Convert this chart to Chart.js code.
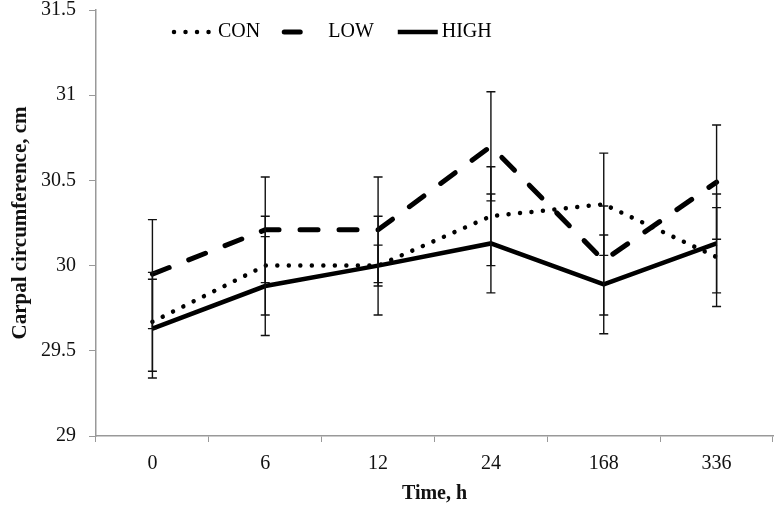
<!DOCTYPE html>
<html>
<head>
<meta charset="utf-8">
<script src="https://cdn.jsdelivr.net/npm/chart.js@4"></script>
<style>
  html, body { margin: 0; padding: 0; background: #fff; }
  #wrap { width: 776px; height: 508px; }
</style>
</head>
<body>
<div id="wrap"><canvas id="chart" width="776" height="508"></canvas></div>
<script>
// Carpal circumference over time
const times = ['0', '6', '12', '24', '168', '336'];
const yTicks = [29, 29.5, 30, 30.5, 31, 31.5];

const conValues = [29.67, 30.00, 30.00, 30.29, 30.36, 30.05];
const lowValues = [29.95, 30.21, 30.21, 30.70, 30.03, 30.49];
const highValues = [29.63, 29.88, 30.00, 30.13, 29.89, 30.13];

const conErr = [0.29, 0.29, 0.29, 0.29, 0.30, 0.29];
const lowErr = [0.32, 0.31, 0.31, 0.32, 0.32, 0.335];
const highErr = [0.29, 0.29, 0.12, 0.29, 0.29, 0.29];

const serif = "'Liberation Serif', 'Times New Roman', serif";

// vertical error bars with caps
const errorBars = {
    id: 'errorBars',
    afterDatasetsDraw(chart) {
        const ctx = chart.ctx;
        const x = chart.scales.x, y = chart.scales.y;
        ctx.save();
        ctx.strokeStyle = '#111';
        ctx.lineWidth = 1.4;
        chart.data.datasets.forEach(ds => {
            ds.data.forEach((v, i) => {
                const e = ds.errors[i];
                const px = x.getPixelForValue(i);
                const top = y.getPixelForValue(v + e);
                const bot = y.getPixelForValue(v - e);
                ctx.beginPath();
                ctx.moveTo(px, top); ctx.lineTo(px, bot);
                ctx.moveTo(px - 4.5, top); ctx.lineTo(px + 4.5, top);
                ctx.moveTo(px - 4.5, bot); ctx.lineTo(px + 4.5, bot);
                ctx.stroke();
            });
        });
        ctx.restore();
    }
};

// legend drawn across the top
const topLegend = {
    id: 'topLegend',
    afterDraw(chart) {
        const ctx = chart.ctx;
        let px = 172;
        const py = 32;
        ctx.save();
        ctx.font = '20px ' + serif;
        ctx.textBaseline = 'middle';
        ctx.fillStyle = '#000';
        chart.data.datasets.forEach(ds => {
            const dash = ds.borderDash || [];
            // a long dash shows only one stroke in the sample
            const len = dash.length && dash[0] > 1 ? dash[0] : 42;
            ctx.save();
            ctx.strokeStyle = '#000';
            ctx.lineWidth = ds.borderWidth;
            ctx.lineCap = ds.borderCapStyle || 'butt';
            ctx.setLineDash(len === 42 ? dash : []);
            ctx.beginPath();
            ctx.moveTo(px + 2, py); ctx.lineTo(px + len, py);
            ctx.stroke();
            ctx.restore();
            px += 46;
            ctx.fillText(ds.label, px, py);
            px += ctx.measureText(ds.label).width + 22;
        });
        ctx.restore();
    }
};

new Chart(document.getElementById('chart'), {
    type: 'line',
    data: {
        labels: times,
        datasets: [
            { label: 'CON', data: conValues, errors: conErr, borderColor: '#000', borderWidth: 4.5,
              borderDash: [0.01, 11.5], borderCapStyle: 'round' },
            { label: 'LOW', data: lowValues, errors: lowErr, borderColor: '#000', borderWidth: 5,
              borderDash: [18, 21], borderCapStyle: 'round' },
            { label: 'HIGH', data: highValues, errors: highErr, borderColor: '#000', borderWidth: 4.5,
              borderJoinStyle: 'miter' }
        ]
    },
    options: {
        responsive: false,
        animation: false,
        layout: { padding: { top: 10, right: 3, left: 0, bottom: 0 } },
        elements: { point: { radius: 0 }, line: { tension: 0 } },
        plugins: { legend: { display: false }, tooltip: { enabled: false } },
        scales: {
            x: {
                offset: true,
                afterFit: s => { s.height = 72; s.paddingLeft = 0; s.paddingRight = 0; },
                grid: { offset: true, drawOnChartArea: false, color: '#999', tickLength: 6 },
                border: { color: '#999', width: 1.5 },
                ticks: { color: '#111', padding: 10, font: { family: serif, size: 20 } },
                title: { display: true, text: 'Time, h', color: '#111', padding: { top: 0, bottom: 2 },
                         font: { family: serif, size: 20, weight: 'bold' } }
            },
            y: {
                min: 29, max: 31.5,
                afterFit: s => { s.width = 96; s.paddingTop = 0; s.paddingBottom = 0; },
                afterBuildTicks: s => { s.ticks = yTicks.map(v => ({ value: v })); },
                grid: { drawOnChartArea: false, color: '#999', tickLength: 7 },
                border: { color: '#999', width: 1.5 },
                ticks: { color: '#111', padding: 13, font: { family: serif, size: 20 },
                         callback: v => String(v) },
                title: { display: true, text: 'Carpal circumference, cm', color: '#111', padding: { top: 8, bottom: 0 },
                         font: { family: serif, size: 21, weight: 'bold' } }
            }
        }
    },
    plugins: [errorBars, topLegend]
});
</script>
</body>
</html>
